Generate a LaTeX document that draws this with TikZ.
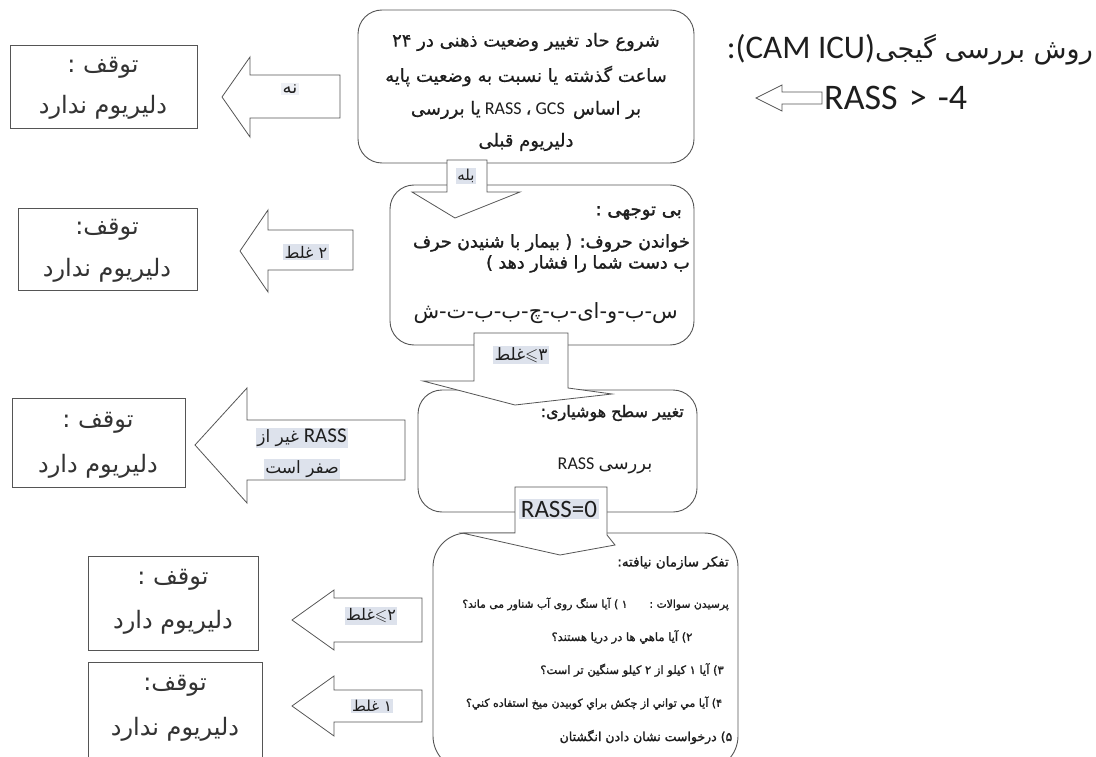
\documentclass[tikz,border=0pt]{standalone}
\usepackage{fontspec}
\usepackage{amssymb}
\setmainfont{Carlito}
\newfontfamily\ar[Script=Arabic]{DejaVu Sans}
\newfontfamily\arm[Script=Arabic,FakeBold=0.6]{DejaVu Sans}
\newfontfamily\arb[Script=Arabic,FakeBold=1.5]{DejaVu Sans}
\TeXXeTstate=1
\newcommand\fa[1]{{\ar\beginR #1\endR}}
\newcommand\fmd[1]{{\arm\beginR #1\endR}}
\newcommand\fab[1]{{\arb\beginR #1\endR}}
\definecolor{hl}{RGB}{221,226,236}
\definecolor{ln}{RGB}{85,85,85}
\definecolor{tx}{RGB}{30,30,30}
\begin{document}
\begin{tikzpicture}[x=1pt,y=-1pt,
  box/.style={draw=ln,line width=0.8pt},
  rbox/.style={draw=ln,line width=0.9pt,rounded corners=24pt},
  blk/.style={draw=ln,line width=0.8pt,fill=white,line join=miter},
  lab/.style={fill=hl,inner sep=1.5pt,text=tx},
  txt/.style={inner sep=0pt,text=tx},
  stoptxt/.style={inner sep=0pt,text=black!80,font=\ar\fontsize{24}{27}\selectfont},
]
\useasboundingbox (0,0) rectangle (1096,757);
\fill[white] (0,0) rectangle (1096,757);

% ---------- main flow boxes ----------
\draw[rbox] (358,10) rectangle (694,163);
\node[txt,font=\fontsize{18}{20}\selectfont] at (526,42) {\fmd{شروع حاد تغییر وضعیت ذهنی در ۲۴}};
\node[txt,font=\fontsize{18}{20}\selectfont] at (526,76) {\fmd{ساعت گذشته یا نسبت به وضعیت پایه}};
\node[txt,font=\fontsize{18}{20}\selectfont] at (526,110) {\fmd{یا بررسی} RASS {\arm ،} GCS\ \ \fmd{بر اساس}};
\node[txt,font=\fontsize{18}{20}\selectfont] at (526,142) {\fmd{دلیریوم قبلی}};

\draw[rbox] (390,185) rectangle (694,345);
\node[txt,anchor=east,font=\fontsize{18}{20}\selectfont] at (682,213) {\fab{بی توجهی :}};
\node[txt,anchor=east,font=\fontsize{17.5}{20}\selectfont] at (690,243) {\fab{خواندن حروف: ( بیمار با شنیدن حرف}};
\node[txt,anchor=east,font=\fontsize{17.5}{20}\selectfont] at (690,264) {\fab{ب دست شما را فشار دهد )}};
\node[txt,anchor=east,font=\fontsize{21}{24}\selectfont] at (678,313) {\fa{س-ب-و-ای-ب-چ-ب-ب-ت-ش}};

\draw[rbox] (418,390) rectangle (697,512);
\node[txt,anchor=east,font=\fontsize{16}{18}\selectfont] at (684,413) {\fab{تغییر سطح هوشیاری:}};
\node[txt,font=\fontsize{18}{20}\selectfont] at (605,466) {RASS \fa{بررسی}};

\draw[rbox,rounded corners=34pt] (433,533) rectangle (738,770);
\node[txt,anchor=east,font=\fontsize{13.5}{16}\selectfont] at (729,563) {\fab{تفکر سازمان نیافته:}};
\node[txt,anchor=east,font=\fontsize{10.8}{13}\selectfont] at (729,604) {\fab{پرسیدن سوالات :\hspace{22pt}۱ ) آیا سنگ روی آب شناور می ماند؟}};
\node[txt,font=\fontsize{11.5}{13}\selectfont] at (622,637) {\fab{۲) آيا ماهي ها در دريا هستند؟}};
\node[txt,font=\fontsize{11.5}{13}\selectfont] at (632,670) {\fab{۳) آیا ۱ کیلو از ۲ کیلو سنگین تر است؟}};
\node[txt,font=\fontsize{11}{13}\selectfont] at (594,703) {\fab{۴) آيا مي تواني از چكش براي كوبيدن ميخ استفاده كني؟}};
\node[txt,font=\fontsize{12.5}{14}\selectfont] at (646,737) {\fab{۵) درخواست نشان دادن انگشتان}};

% ---------- stop boxes ----------
\draw[box] (10,45) rectangle (197,128);
\node[stoptxt] at (103,68) {\fa{توقف :}};
\node[stoptxt] at (103,107) {\fa{دلیریوم ندارد}};

\draw[box] (18,208) rectangle (197,290);
\node[stoptxt] at (107,230) {\fa{توقف:}};
\node[stoptxt] at (107,270) {\fa{دلیریوم ندارد}};

\draw[box] (12,398) rectangle (185,487);
\node[stoptxt] at (98,423) {\fa{توقف :}};
\node[stoptxt] at (98,466) {\fa{دلیریوم دارد}};

\draw[box] (88,556) rectangle (258,650);
\node[stoptxt] at (173,580) {\fa{توقف :}};
\node[stoptxt] at (173,622) {\fa{دلیریوم دارد}};

\draw[box] (88,760) -- (88,662) -- (262,662) -- (262,760);
\node[stoptxt] at (175,686) {\fa{توقف:}};
\node[stoptxt] at (175,729) {\fa{دلیریوم ندارد}};

% ---------- left block arrows ----------
\draw[blk] (340,75) -- (250,75) -- (250,57) -- (222,97) -- (250,137) -- (250,118) -- (340,118) -- cycle;
\node[lab,font=\ar\fontsize{18}{20}\selectfont,fill=hl!50] at (290,89) {\fa{نه}};

\draw[blk] (353,230) -- (268,230) -- (268,210) -- (240,251) -- (268,292) -- (268,270) -- (353,270) -- cycle;
\node[lab,font=\ar\fontsize{16}{18}\selectfont] at (306,252) {\fa{۲ غلط}};

\draw[blk] (405,420) -- (247,420) -- (247,388) -- (195,445) -- (247,503) -- (247,480) -- (405,480) -- cycle;
\node[lab,font=\fontsize{21}{23}\selectfont] at (302,438) {{\ar\fontsize{17}{20}\selectfont\beginR غیر از\endR} RASS};
\node[lab,font=\ar\fontsize{17}{20}\selectfont] at (302,469) {\fa{صفر است}};

\draw[blk] (422,598) -- (334,598) -- (334,590) -- (292,620) -- (334,650) -- (334,642) -- (422,642) -- cycle;
\node[lab,font=\fontsize{16}{18}\selectfont] at (371,616) {{\ar غلط}$\leqslant${\ar ۲}};

\draw[blk] (422,690) -- (334,690) -- (334,676) -- (292,706) -- (334,736) -- (334,722) -- (422,722) -- cycle;
\node[lab,font=\ar\fontsize{15}{17}\selectfont] at (372,706) {\fa{۱ غلط}};

% ---------- down block arrows ----------
\draw[blk] (447,160) -- (487,160) -- (487,192) -- (520,192) -- (455,218) -- (412,192) -- (447,192) -- cycle;
\node[lab,font=\ar\fontsize{15}{17}\selectfont] at (466,176) {\fa{بله}};

\draw[blk] (474,333) -- (568,333) -- (568,388) -- (612,394) -- (515,405) -- (423,381) -- (474,381) -- cycle;
\node[lab,font=\fontsize{17}{19}\selectfont] at (521,355) {{\ar غلط}$\leqslant${\ar ۳}};

\draw[blk] (515,487) -- (607,487) -- (607,535) -- (615,545) -- (560,555) -- (462,533) -- (515,533) -- cycle;
\node[lab,font=\fontsize{25}{27}\selectfont] at (559,509) {RASS=0};

% ---------- title ----------
\node[txt,anchor=east,font=\fontsize{33}{35}\selectfont] at (1093,50) {:(CAM ICU){\ar\fontsize{27}{32}\selectfont\beginR روش بررسی گیجی\endR}};
\draw[blk,line width=0.7pt] (822,92) -- (782,92) -- (782,85) -- (756,98) -- (782,111) -- (782,104) -- (822,104) -- cycle;
\node[txt,anchor=west,font=\fontsize{36}{38}\selectfont] at (824,98) {RASS\hspace{3pt} >\hspace{3pt} -4};
\end{tikzpicture}
\end{document}
